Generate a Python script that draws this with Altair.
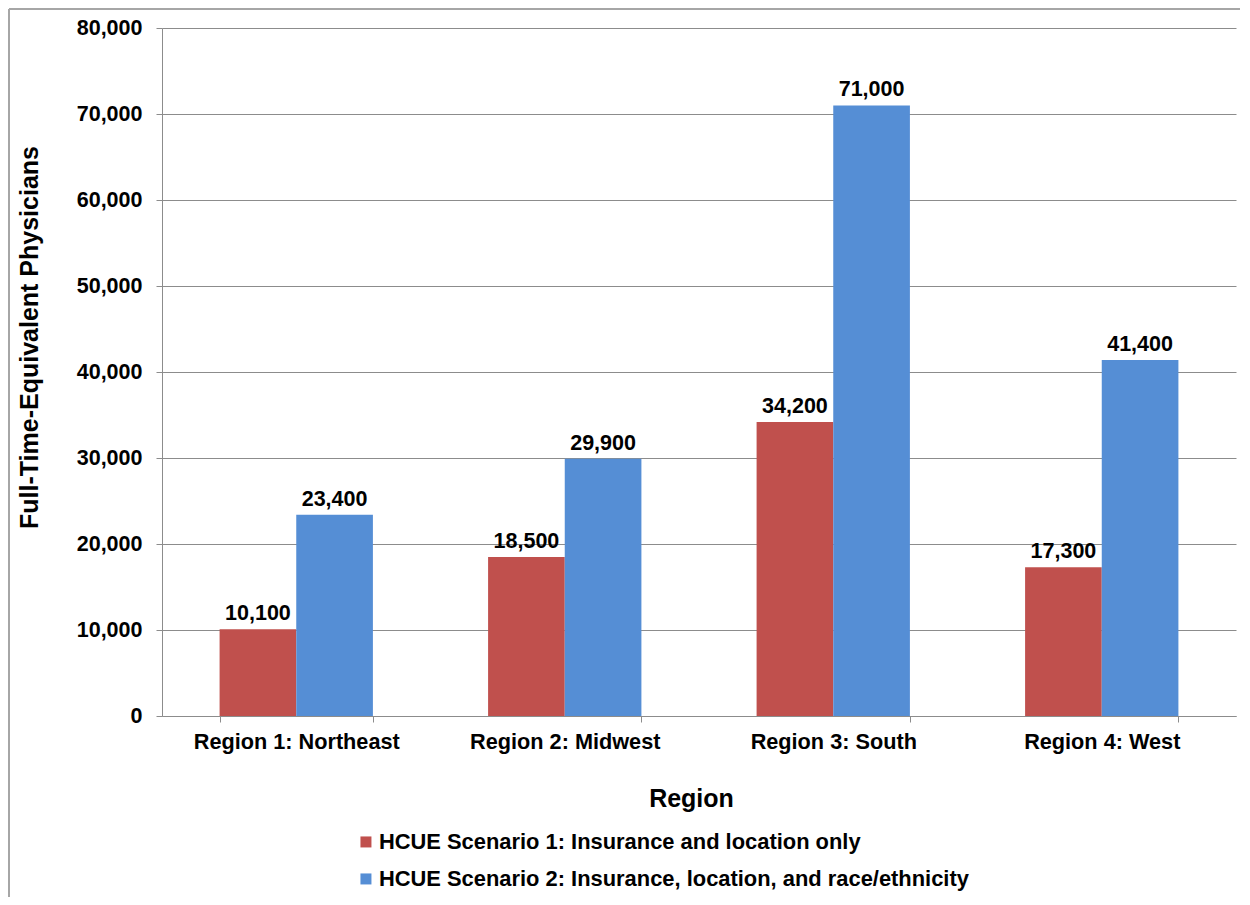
import altair as alt
import pandas as pd

regions = ["Region 1: Northeast", "Region 2: Midwest", "Region 3: South", "Region 4: West"]
series = ["HCUE Scenario 1: Insurance and location only",
          "HCUE Scenario 2: Insurance, location, and race/ethnicity"]
scenario1 = [10100, 18500, 34200, 17300]
scenario2 = [23400, 29900, 71000, 41400]
colors = ["#C0504D", "#558ED5"]
y_ticks = [0, 10000, 20000, 30000, 40000, 50000, 60000, 70000, 80000]

rows = []
for i, r in enumerate(regions):
    rows.append({"Region": r, "Scenario": series[0], "Value": scenario1[i]})
    rows.append({"Region": r, "Scenario": series[1], "Value": scenario2[i]})
df = pd.DataFrame(rows)

FONT = "Liberation Sans"
GRID = "#8c8c8c"
W, H = 1074, 688

x_enc = alt.X("Region:N", sort=regions,
              scale=alt.Scale(paddingInner=0.429, paddingOuter=0.2145),
              axis=alt.Axis(title="Region", labelAngle=0, tickBand="extent",
                            labelFontSize=21.7, labelFontWeight="bold", labelColor="black",
                            labelBaseline="alphabetic", labelPadding=26, labelLimit=0,
                            titleFontSize=25, titleFontWeight="bold", titleColor="black",
                            titleX=529, titleY=90, titleBaseline="alphabetic", titleAlign="center",
                            domainColor=GRID, tickColor=GRID, tickSize=6, grid=False))
xoff = alt.XOffset("Scenario:N", sort=series,
                   scale=alt.Scale(paddingInner=0, paddingOuter=0))
y_enc = alt.Y("Value:Q",
              scale=alt.Scale(domain=[0, 80000], nice=False),
              axis=alt.Axis(title="Full-Time-Equivalent Physicians", values=y_ticks, format=",d",
                            labelFontSize=21.5, labelFontWeight="bold", labelColor="black",
                            labelPadding=14,
                            titleFontSize=25, titleFontWeight="bold", titleColor="black",
                            titleX=-133, titleY=309, titleBaseline="middle", titleAlign="center",
                            titleAngle=270,
                            domainColor=GRID, tickColor=GRID, tickSize=6,
                            grid=True, gridColor=GRID, gridWidth=1))
color_enc = alt.Color("Scenario:N", sort=series,
                      scale=alt.Scale(domain=series, range=colors),
                      legend=alt.Legend(title=None, orient="none", legendX=193, legendY=803,
                                        direction="vertical", symbolType="square",
                                        symbolSize=121, symbolStrokeWidth=0,
                                        labelFontSize=21.9, labelFontWeight="bold",
                                        labelColor="black", labelOffset=2, rowPadding=14,
                                        padding=0, labelLimit=0))

bars = alt.Chart(df).mark_bar().encode(x=x_enc, xOffset=xoff, y=y_enc, color=color_enc)
labels = alt.Chart(df).mark_text(baseline="alphabetic", dy=-9, fontSize=21.5,
                                 fontWeight="bold", color="black", font=FONT).encode(
    x=alt.X("Region:N", sort=regions), xOffset=xoff, y="Value:Q",
    text=alt.Text("Value:Q", format=",d"))

frame_data = alt.Data(values=[{"k": 1}])
frame_left = alt.Chart(frame_data).mark_rule(color="#a6a6a6", strokeWidth=2).encode(
    x=alt.value(-153), y=alt.value(-19), y2=alt.value(869))
frame_top = alt.Chart(frame_data).mark_rule(color="#a6a6a6", strokeWidth=2).encode(
    x=alt.value(-153), x2=alt.value(1078), y=alt.value(-19))

chart = alt.layer(bars, labels, frame_left, frame_top).properties(
    width=W, height=H, padding=0
).configure(font=FONT).configure_view(stroke=None)

chart.save("out.html", embed_options={"renderer": "svg", "actions": False})
